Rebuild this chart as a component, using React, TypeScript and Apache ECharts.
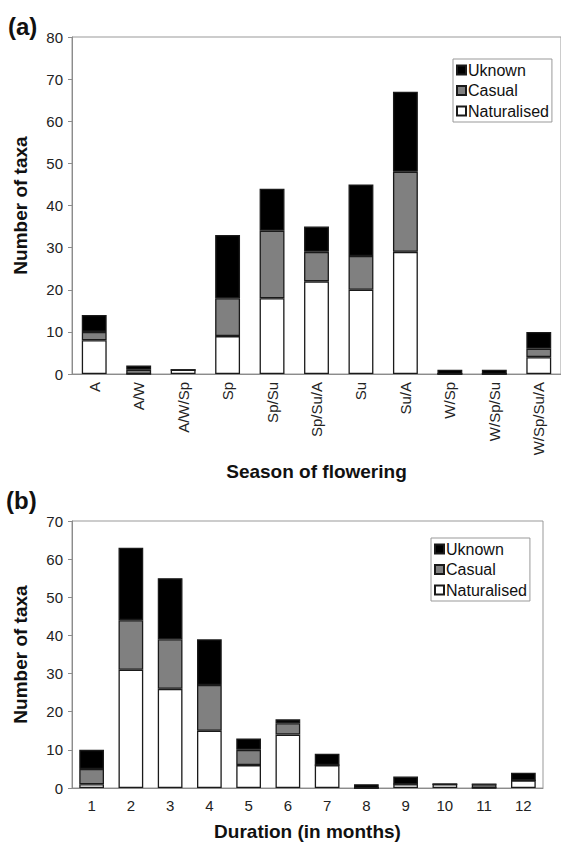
import React, { useEffect, useRef } from "react";
import * as echarts from "echarts";

const seasonCats = ["A", "A/W", "A/W/Sp", "Sp", "Sp/Su", "Sp/Su/A", "Su", "Su/A", "W/Sp", "W/Sp/Su", "W/Sp/Su/A"];
const seasonNaturalised = [8, 0, 1, 9, 18, 22, 20, 29, 0, 0, 4];
const seasonCasual = [2, 1, 0, 9, 16, 7, 8, 19, 0, 0, 2];
const seasonUnknown = [4, 1, 0, 15, 10, 6, 17, 19, 1, 1, 4];

const durationCats = ["1", "2", "3", "4", "5", "6", "7", "8", "9", "10", "11", "12"];
const durationNaturalised = [1, 31, 26, 15, 6, 14, 6, 0, 1, 1, 0, 2];
const durationCasual = [4, 13, 13, 12, 4, 3, 0, 0, 0, 0, 1, 0];
const durationUnknown = [5, 19, 16, 12, 3, 1, 3, 1, 2, 0, 0, 2];

const FONT = "'Liberation Sans', Arial, sans-serif";
const AXIS_GRAY = "#8c8c8c";

export default function App() {
  const ref = useRef<HTMLDivElement>(null);
  useEffect(() => {
    if (!ref.current) return;
    const chart = echarts.init(ref.current, null, { renderer: "svg" });

    const barStyle = (fill: string) => ({ color: fill, borderColor: "#1a1a1a", borderWidth: 1.3 });
    const mkSeries = (name: string, data: number[], fill: string, idx: number, gap: string) => ({
      name,
      type: "bar",
      stack: "s" + idx,
      xAxisIndex: idx,
      yAxisIndex: idx,
      data,
      barCategoryGap: gap,
      itemStyle: barStyle(fill),
    });

    const yAxisCommon = (max: number, idx: number) => ({
      type: "value",
      gridIndex: idx,
      min: 0,
      max,
      interval: 10,
      name: "Number of taxa",
      nameLocation: "middle",
      nameGap: 42,
      nameTextStyle: { fontFamily: FONT, fontSize: 19, fontWeight: "bold", color: "#111" },
      axisLine: { show: true, lineStyle: { color: AXIS_GRAY, width: 1 } },
      axisTick: { show: true, length: 4, lineStyle: { color: AXIS_GRAY } },
      axisLabel: { fontFamily: FONT, fontSize: 15, color: "#222", margin: 9 },
      splitLine: { show: false },
    });

    const legendCommon = (left: number, top: number) => ({
      orient: "vertical",
      left,
      top,
      data: [
        { name: "Uknown", icon: "rect" },
        { name: "Casual", icon: "rect" },
        { name: "Naturalised", icon: "rect" },
      ],
      itemWidth: 9,
      itemHeight: 9,
      itemGap: 4.5,
      padding: [3, 3, 3, 3],
      borderColor: "#999",
      borderWidth: 1,
      backgroundColor: "#fff",
      textStyle: { fontFamily: FONT, fontSize: 16, color: "#111", padding: [0, 0, 0, -3] },
    });

    chart.setOption({
      animation: false,
      backgroundColor: "#fff",
      grid: [
        { left: 72, top: 37, width: 490, height: 337, show: true, borderColor: "#999", borderWidth: 1, backgroundColor: "transparent" },
        { left: 72, top: 521, width: 471, height: 267, show: true, borderColor: "#999", borderWidth: 1, backgroundColor: "transparent" },
      ],
      legend: [
        { ...legendCommon(453, 59) },
        { ...legendCommon(431, 538) },
      ],
      xAxis: [
        {
          type: "category",
          gridIndex: 0,
          data: seasonCats,
          name: "Season of flowering",
          nameLocation: "middle",
          nameGap: 88,
          nameTextStyle: { fontFamily: FONT, fontSize: 19, fontWeight: "bold", color: "#111" },
          axisLine: { show: true, lineStyle: { color: AXIS_GRAY } },
          axisTick: { show: false },
          axisLabel: { fontFamily: FONT, fontSize: 15, color: "#222", rotate: 90, margin: 8, interval: 0 },
        },
        {
          type: "category",
          gridIndex: 1,
          data: durationCats,
          name: "Duration (in months)",
          nameLocation: "middle",
          nameGap: 34,
          nameTextStyle: { fontFamily: FONT, fontSize: 19, fontWeight: "bold", color: "#111" },
          axisLine: { show: true, lineStyle: { color: AXIS_GRAY } },
          axisTick: { show: false },
          axisLabel: { fontFamily: FONT, fontSize: 15, color: "#222", margin: 10, interval: 0 },
        },
      ],
      yAxis: [yAxisCommon(80, 0), yAxisCommon(70, 1)],
      series: [
        mkSeries("Naturalised", seasonNaturalised, "#ffffff", 0, "44%"),
        mkSeries("Casual", seasonCasual, "#808080", 0, "44%"),
        mkSeries("Uknown", seasonUnknown, "#000000", 0, "44%"),
        mkSeries("Naturalised", durationNaturalised, "#ffffff", 1, "37%"),
        mkSeries("Casual", durationCasual, "#808080", 1, "37%"),
        mkSeries("Uknown", durationUnknown, "#000000", 1, "37%"),
      ],
      graphic: [
        { type: "text", left: 8, top: 14, style: { text: "(a)", fontFamily: FONT, fontSize: 24, fontWeight: "bold", fill: "#111" } },
        { type: "text", left: 6, top: 488, style: { text: "(b)", fontFamily: FONT, fontSize: 24, fontWeight: "bold", fill: "#111" } },
      ],
    });
    return () => chart.dispose();
  }, []);
  return <div ref={ref} style={{ position: "absolute", left: 0, top: 0, width: 561, height: 845 }} />;
}
